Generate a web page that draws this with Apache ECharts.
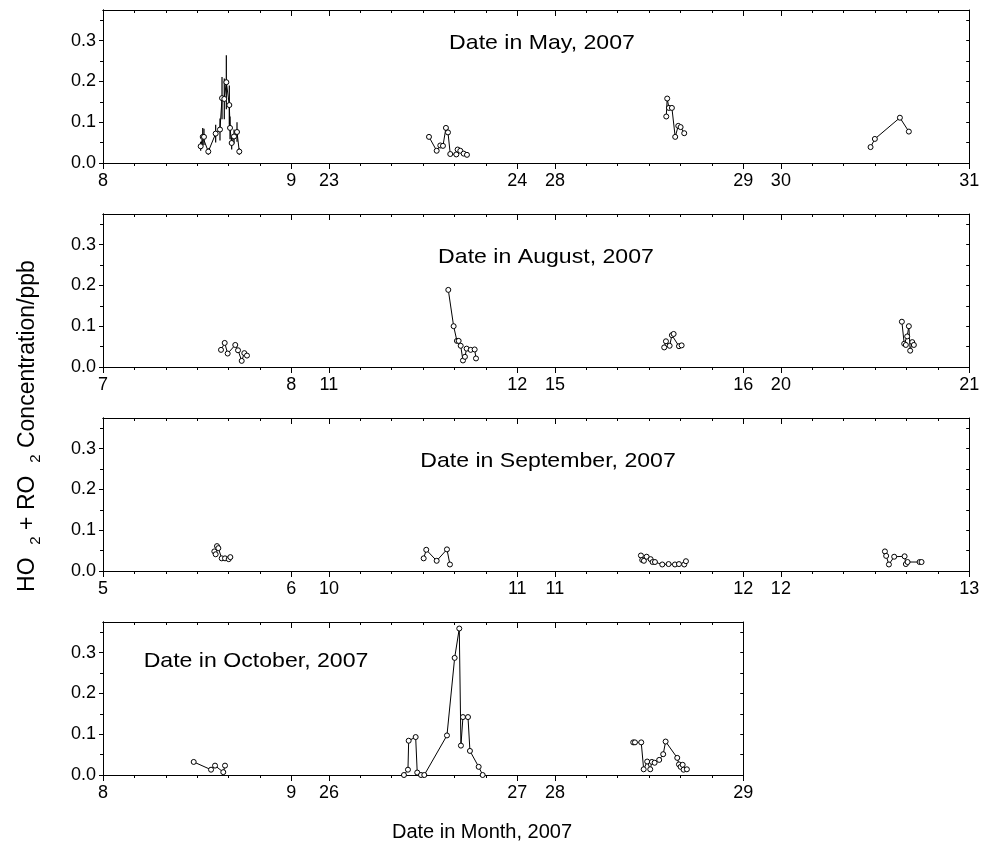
<!DOCTYPE html>
<html><head><meta charset="utf-8">
<script src="https://cdn.jsdelivr.net/npm/echarts@6/dist/echarts.min.js"></script>
<style>html,body{margin:0;padding:0;background:#fff}#c{width:984px;height:849px}</style>
</head><body><div id="c"></div>
<script>
// ---------------- data ----------------
const panelTitles = ['Date in May, 2007', 'Date in August, 2007', 'Date in September, 2007', 'Date in October, 2007'];
const xTitle = 'Date in Month, 2007';
const yMajorTicks = [0, 0.1, 0.2, 0.3];
const yMinorTicks = [0.05, 0.15, 0.25, 0.35];

// first day of each plotted day-segment (label at start = day, at end = day + 1)
const mayStartDays = [8, 23, 28, 30];
const augStartDays = [7, 11, 15, 20];
const sepStartDays = [5, 10, 11, 12];
const octStartDays = [8, 26, 28];

// hour of day (0-24) and HO2+RO2 concentration (ppb) for each day-segment
const mayHours = [
  [12.45, 12.71, 12.87, 13.42, 14.36, 14.91, 15.17, 15.46, 15.72, 16.10, 16.19, 16.40, 16.70, 17.08, 17.37],
  [12.75, 13.73, 14.19, 14.53, 14.91, 15.17, 15.46, 16.23, 16.40, 16.74, 17.17, 17.59],
  [14.19, 14.31, 14.53, 14.91, 15.33, 15.72, 16.02, 16.48],
  [11.43, 11.98, 15.17, 16.31]
];
const mayValues = [
  [0.041, 0.064, 0.064, 0.028, 0.072, 0.082, 0.159, 0.157, 0.198, 0.142, 0.086, 0.049, 0.065, 0.076, 0.028],
  [0.064, 0.030, 0.043, 0.042, 0.086, 0.075, 0.022, 0.021, 0.033, 0.030, 0.023, 0.020],
  [0.114, 0.158, 0.135, 0.135, 0.064, 0.091, 0.088, 0.073],
  [0.039, 0.059, 0.111, 0.077]
];
// error bar half-widths for May 8
const may8Errors = [0.011, 0.022, 0.020, 0.008, 0.022, 0.027, 0.052, 0.050, 0.066, 0.048, 0.028, 0.016, 0.017, 0.024, 0.008];

const augHours = [
  [15.04, 15.51, 15.89, 16.86, 17.21, 17.68, 18.01, 18.35],
  [15.21, 15.89, 16.31, 16.53, 16.79, 17.08, 17.33, 17.55, 18.06, 18.57, 18.74],
  [13.93, 14.15, 14.62, 14.91, 15.13, 15.81, 16.15],
  [15.42, 15.72, 15.93, 16.10, 16.31, 16.48, 16.74, 16.95]
];
const augValues = [
  [0.042, 0.059, 0.033, 0.054, 0.041, 0.015, 0.034, 0.028],
  [0.189, 0.100, 0.064, 0.064, 0.052, 0.016, 0.025, 0.045, 0.042, 0.043, 0.021],
  [0.048, 0.063, 0.052, 0.078, 0.081, 0.051, 0.053],
  [0.111, 0.057, 0.054, 0.075, 0.100, 0.040, 0.061, 0.054]
];

const sepHours = [
  [14.19, 14.36, 14.53, 14.70, 15.13, 15.55, 16.02, 16.23],
  [12.07, 12.40, 13.73, 15.04, 15.42],
  [10.96, 11.13, 11.34, 11.69, 12.20, 12.45, 12.75, 13.68, 14.49, 15.30, 15.81, 16.48, 16.70],
  [13.26, 13.42, 13.77, 14.44, 15.77, 15.93, 16.15, 17.68, 17.93]
];
const sepValues = [
  [0.048, 0.041, 0.061, 0.056, 0.031, 0.031, 0.029, 0.034],
  [0.031, 0.052, 0.025, 0.053, 0.016],
  [0.038, 0.027, 0.025, 0.035, 0.029, 0.022, 0.022, 0.016, 0.017, 0.016, 0.017, 0.016, 0.024],
  [0.048, 0.037, 0.016, 0.035, 0.036, 0.017, 0.022, 0.022, 0.022]
];

const octHours = [
  [11.56, 13.77, 14.28, 15.33, 15.55],
  [9.56, 10.07, 10.16, 11.05, 11.25, 11.73, 12.15, 15.04, 16.02, 16.61, 16.82, 17.08, 17.72, 17.97, 19.08, 19.59],
  [9.98, 10.20, 11.00, 11.31, 11.76, 12.15, 12.36, 12.71, 13.29, 13.80, 14.11, 15.59, 15.81, 16.02, 16.28, 16.40, 16.82]
];
const octValues = [
  [0.032, 0.013, 0.023, 0.007, 0.023],
  [0.000, 0.013, 0.084, 0.093, 0.006, 0.000, 0.000, 0.097, 0.287, 0.359, 0.072, 0.142, 0.142, 0.059, 0.020, 0.000],
  [0.080, 0.080, 0.080, 0.014, 0.033, 0.014, 0.032, 0.030, 0.037, 0.051, 0.082, 0.042, 0.026, 0.020, 0.025, 0.013, 0.014]
];

// ---------------- layout ----------------
const FONT = '"Liberation Sans", Arial, Helvetica, sans-serif';
const GAP = 0.2;          // gap between day segments (in days)
const UNIT_PX = 188.3;    // pixels per day
const GRID_LEFT = 103;
const GRID_TOPS = [10, 214, 418, 622];
const GRID_H = 153;
const Y_MAX = 0.375;

const months = [
  { start: mayStartDays, hours: mayHours, values: mayValues },
  { start: augStartDays, hours: augHours, values: augValues },
  { start: sepStartDays, hours: sepHours, values: sepValues },
  { start: octStartDays, hours: octHours, values: octValues }
];

const grids = [], xAxes = [], yAxes = [], series = [];
const black = '#000';

months.forEach((m, g) => {
  const n = m.start.length;
  const L = n + (n - 1) * GAP;
  grids.push({ left: GRID_LEFT, top: GRID_TOPS[g], width: L * UNIT_PX, height: GRID_H, outerBoundsMode: 'none', containLabel: false });

  const majorVals = [], majorLabels = [], minorVals = [];
  for (let s = 0; s < n; s++) {
    const x0 = s * (1 + GAP);
    majorVals.push(x0, x0 + 1);
    majorLabels.push(String(m.start[s]), String(m.start[s] + 1));
    for (let k = 1; k < 6; k++) minorVals.push(x0 + k / 6);
  }
  const labelFor = v => {
    let best = 0, bd = 1e9;
    majorVals.forEach((mv, i) => { const d = Math.abs(mv - v); if (d < bd) { bd = d; best = i; } });
    return majorLabels[best];
  };
  const baseX = {
    gridIndex: g, type: 'value', min: 0, max: L,
    splitLine: { show: false },
    axisLine: { show: true, onZero: false, lineStyle: { color: black, width: 1 } }
  };
  // bottom minor
  xAxes.push(Object.assign({}, baseX, { position: 'bottom',
    axisTick: { show: true, inside: false, length: 3, customValues: minorVals, lineStyle: { color: black } },
    axisLabel: { show: false } }));
  // bottom major + labels
  xAxes.push(Object.assign({}, baseX, { position: 'bottom',
    axisTick: { show: true, inside: false, length: 6, customValues: majorVals, lineStyle: { color: black } },
    axisLabel: { show: true, customValues: majorVals, margin: 9, color: black, fontSize: 18, fontFamily: FONT,
      formatter: v => labelFor(v), showMinLabel: true, showMaxLabel: true, hideOverlap: false } }));
  // top minor
  xAxes.push(Object.assign({}, baseX, { position: 'top',
    axisTick: { show: true, inside: true, length: 3, customValues: minorVals, lineStyle: { color: black } },
    axisLabel: { show: false } }));
  // top major
  xAxes.push(Object.assign({}, baseX, { position: 'top',
    axisTick: { show: true, inside: true, length: 6, customValues: majorVals, lineStyle: { color: black } },
    axisLabel: { show: false } }));

  const baseY = {
    gridIndex: g, type: 'value', min: 0, max: Y_MAX,
    splitLine: { show: false },
    axisLine: { show: true, onZero: false, lineStyle: { color: black, width: 1 } }
  };
  yAxes.push(Object.assign({}, baseY, { position: 'left',
    axisTick: { show: true, inside: false, length: 4, customValues: yMajorTicks, lineStyle: { color: black } },
    axisLabel: { show: true, customValues: yMajorTicks, margin: 7, color: black, fontSize: 18, fontFamily: FONT,
      formatter: v => Number(v).toFixed(1), showMinLabel: true, showMaxLabel: true } }));
  yAxes.push(Object.assign({}, baseY, { position: 'left',
    axisTick: { show: true, inside: false, length: 3, customValues: yMinorTicks, lineStyle: { color: black } },
    axisLabel: { show: false } }));
  yAxes.push(Object.assign({}, baseY, { position: 'right',
    axisTick: { show: true, inside: true, length: 3, customValues: yMajorTicks.concat(yMinorTicks), lineStyle: { color: black } },
    axisLabel: { show: false } }));

  for (let s = 0; s < n; s++) {
    const x0 = s * (1 + GAP);
    const data = m.hours[s].map((h, i) => [x0 + h / 24, m.values[s][i]]);
    if (g === 0 && s === 0) {
      series.push({
        type: 'custom', xAxisIndex: 4 * g, yAxisIndex: 3 * g, clip: false, z: 1,
        data: m.hours[s].map((h, i) => [x0 + h / 24, m.values[s][i] - may8Errors[i], m.values[s][i] + may8Errors[i]]),
        encode: { x: 0, y: [1, 2] },
        renderItem: (params, api) => {
          const p1 = api.coord([api.value(0), api.value(1)]);
          const p2 = api.coord([api.value(0), api.value(2)]);
          return { type: 'line', shape: { x1: p1[0], y1: p1[1], x2: p2[0], y2: p2[1] }, style: { stroke: black, lineWidth: 1.2 } };
        }
      });
    }
    series.push({
      type: 'line', xAxisIndex: 4 * g, yAxisIndex: 3 * g, data, clip: false, z: 3,
      symbol: 'circle', symbolSize: 5, showSymbol: true,
      itemStyle: { color: '#fff', borderColor: black, borderWidth: 1 },
      lineStyle: { color: black, width: 1 },
      emphasis: { disabled: true }
    });
  }
});

const titleCenters = [[542, 43], [546, 257], [548, 461], [256, 661]];
const graphics = panelTitles.map((t, i) => ({
  type: 'text', x: titleCenters[i][0], y: titleCenters[i][1], scaleX: 1.1, scaleY: 1,
  style: { text: t, fill: black, font: '21px ' + FONT, align: 'center', verticalAlign: 'middle' }
}));
graphics.push({
  type: 'text', x: 482, y: 832,
  style: { text: xTitle, fill: black, font: '20px ' + FONT, align: 'center', verticalAlign: 'middle' }
});
graphics.push({
  type: 'text', x: 28, y: 426, rotation: Math.PI / 2,
  style: {
    text: '{m|HO  }{s|2}{m| + RO  }{s|2}{m| Concentration/ppb}',
    align: 'center', verticalAlign: 'middle', fill: black,
    rich: {
      m: { fontSize: 23, fontFamily: FONT, lineHeight: 30, verticalAlign: 'middle', fill: black },
      s: { fontSize: 15, fontFamily: FONT, lineHeight: 30, verticalAlign: 'bottom', fill: black }
    }
  }
});

const chart = echarts.init(document.getElementById('c'), null, { renderer: 'canvas' });
chart.setOption({
  animation: false,
  backgroundColor: '#fff',
  grid: grids, xAxis: xAxes, yAxis: yAxes, series,
  graphic: graphics
});
</script></body></html>
